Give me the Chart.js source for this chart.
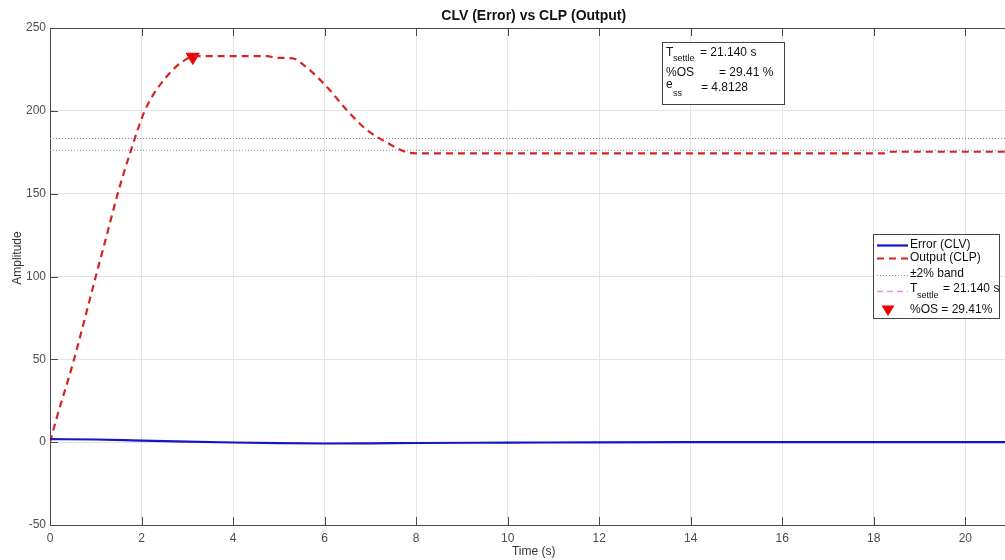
<!DOCTYPE html>
<html>
<head>
<meta charset="utf-8">
<script src="https://cdn.jsdelivr.net/npm/chart.js@4.4.1/dist/chart.umd.min.js"></script>
<style>
  html, body { margin: 0; padding: 0; background: #ffffff; overflow: hidden; }
  canvas { display: block; }
</style>
</head>
<body>
<canvas id="c" width="1026" height="560"></canvas>
<script>
// ---- data ----
const outTime  = [0, 0.15, 0.5, 1.0, 1.25, 1.5, 1.77, 2.04, 2.25, 2.5, 2.75, 3.0, 3.12, 4.75, 4.95, 5.3, 5.55, 6.0, 6.5, 6.9, 7.35, 7.8, 8.0, 18.2, 18.4, 21.14];
const outputCLP = [0, 15, 47.5, 100, 126, 152, 176.2, 198, 209.5, 219, 226.5, 231.5, 233, 233, 232, 231.7, 227.5, 216, 200, 189, 181, 175, 174.3, 174.3, 175.3, 175.3];
const errTime  = [0, 1, 2, 3, 4, 5, 6, 7, 8, 10, 12, 14, 21.14];
const errorCLV = [1.8, 1.6, 0.9, 0.3, -0.2, -0.6, -0.8, -0.7, -0.5, -0.3, -0.1, 0, 0];
const bandTime = [0, 21.14];
const bandUpper = [183.3, 183.3];
const bandLower = [176.2, 176.2];
const tSettle = 21.140;
const settleY = [-50, 250];
const peakT = [3.12];
const peakV = [232.5];
const xTicks = [0, 2, 4, 6, 8, 10, 12, 14, 16, 18, 20];
const yTicks = [-50, 0, 50, 100, 150, 200, 250];
const titleText = 'CLV (Error) vs CLP (Output)';
const xLabel = 'Time (s)';
const yLabel = 'Amplitude';
const ossText = '%OS = 29.41%';

const pts = (xs, ys) => xs.map((x, i) => ({ x: x, y: ys[i] }));

const BLUE = '#1414c8', RED = '#d42424', MARK = '#ee0000', GRAY = '#8a8a8a', PINK = '#ee88ee';
const AXC = '#4a4a4a', TXT = '#4d4d4d';
const FONT = '"Liberation Sans", Arial, sans-serif';

const decor = {
  id: 'decor',
  afterDraw(chart) {
    const ctx = chart.ctx, a = chart.chartArea;
    const xs = chart.scales.x, ys = chart.scales.y;
    ctx.save();
    // box: top & right border
    ctx.strokeStyle = AXC; ctx.lineWidth = 1;
    ctx.beginPath();
    ctx.moveTo(a.left, a.top + 0.5); ctx.lineTo(a.right, a.top + 0.5);
    ctx.moveTo(a.right - 0.5, a.top); ctx.lineTo(a.right - 0.5, a.bottom);
    ctx.stroke();
    // inward ticks
    ctx.beginPath();
    xTicks.forEach(v => {
      const px = Math.round(xs.getPixelForValue(v)) + 0.5;
      ctx.moveTo(px, a.bottom); ctx.lineTo(px, a.bottom - 8);
      ctx.moveTo(px, a.top); ctx.lineTo(px, a.top + 8);
    });
    yTicks.forEach(v => {
      const py = Math.round(ys.getPixelForValue(v)) + 0.5;
      ctx.moveTo(a.left, py); ctx.lineTo(a.left + 8, py);
      ctx.moveTo(a.right, py); ctx.lineTo(a.right - 8, py);
    });
    ctx.stroke();

    // title
    const cx = (a.left + a.right) / 2;
    ctx.fillStyle = '#111';
    ctx.font = 'bold 14px ' + FONT;
    ctx.textAlign = 'center'; ctx.textBaseline = 'middle';
    ctx.fillText(titleText, cx, 16);
    // axis labels
    ctx.fillStyle = '#333';
    ctx.font = '12px ' + FONT;
    ctx.fillText(xLabel, cx, 552);
    ctx.save();
    ctx.translate(18, 258); ctx.rotate(-Math.PI / 2);
    ctx.fillText(yLabel, 0, 0);
    ctx.restore();

    // annotation box
    ctx.fillStyle = '#fff';
    ctx.fillRect(662, 42, 123, 62);
    ctx.strokeStyle = '#444'; ctx.lineWidth = 1;
    ctx.strokeRect(662.5, 42.5, 122, 62);
    ctx.fillStyle = '#111';
    ctx.textAlign = 'left'; ctx.textBaseline = 'middle';
    ctx.font = '12px ' + FONT;
    ctx.fillText('T', 666, 53);
    ctx.fillText('= 21.140 s', 700, 53);
    ctx.fillText('%OS', 666, 73);
    ctx.fillText('= 29.41 %', 719, 73);
    ctx.fillText('e', 666, 85);
    ctx.fillText('= 4.8128', 701, 88);
    ctx.font = '9px ' + FONT;
    ctx.fillText('settle', 673, 59);
    ctx.fillText('ss', 673, 94);

    // legend
    const L = 873, T = 234, W = 126, H = 84;
    ctx.fillStyle = '#fff';
    ctx.fillRect(L, T, W, H);
    ctx.strokeStyle = '#444';
    ctx.strokeRect(L + 0.5, T + 0.5, W, H);
    const x0 = 877, x1 = 908, tx = 910;
    const seg = (y, color, w, dash) => {
      ctx.save(); ctx.strokeStyle = color; ctx.lineWidth = w; ctx.setLineDash(dash);
      ctx.beginPath(); ctx.moveTo(x0, y); ctx.lineTo(x1, y); ctx.stroke(); ctx.restore();
    };
    seg(245.5, BLUE, 2.2, []);
    seg(258.5, RED, 2.2, [7, 5]);
    seg(275.5, GRAY, 1, [1, 2]);
    seg(291.5, PINK, 1.5, [6, 4]);
    // triangle marker
    ctx.fillStyle = MARK;
    ctx.beginPath();
    ctx.moveTo(881.5, 305.5); ctx.lineTo(894.5, 305.5); ctx.lineTo(888, 316); ctx.closePath(); ctx.fill();
    ctx.fillStyle = '#111';
    ctx.font = '12px ' + FONT;
    ctx.fillText('Error (CLV)', tx, 245);
    ctx.fillText('Output (CLP)', tx, 258);
    ctx.fillText('\u00b12% band', tx, 274);
    ctx.fillText('T', tx, 289);
    ctx.fillText('= 21.140 s', 943, 289);
    ctx.fillText(ossText, tx, 310);
    ctx.font = '9px ' + FONT;
    ctx.fillText('settle', 917, 296);
    ctx.restore();
  }
};

new Chart(document.getElementById('c'), {
  type: 'line',
  data: {
    datasets: [
      { label: 'Error (CLV)', data: pts(errTime, errorCLV), borderColor: BLUE, borderWidth: 2.2, pointRadius: 0, cubicInterpolationMode: 'monotone' },
      { label: 'Output (CLP)', data: pts(outTime, outputCLP), borderColor: RED, borderWidth: 2.2, borderDash: [7, 5], pointRadius: 0, cubicInterpolationMode: 'monotone' },
      { label: '\u00b12% band', data: pts(bandTime, bandUpper), borderColor: GRAY, borderWidth: 1, borderDash: [1, 2], pointRadius: 0 },
      { label: '\u00b12% band lower', data: pts(bandTime, bandLower), borderColor: GRAY, borderWidth: 1, borderDash: [1, 2], pointRadius: 0 },
      { label: 'T settle', data: settleY.map(v => ({ x: tSettle, y: v })), borderColor: PINK, borderWidth: 1.5, borderDash: [6, 4], pointRadius: 0 },
      { label: '%OS', type: 'scatter', data: pts(peakT, peakV), backgroundColor: MARK, borderColor: MARK, pointStyle: 'triangle', rotation: 180, pointRadius: 7.5, showLine: false }
    ]
  },
  options: {
    responsive: false,
    animation: false,
    devicePixelRatio: 1,
    layout: { padding: { top: 28, right: 1, left: 0, bottom: 0 } },
    plugins: { legend: { display: false }, title: { display: false }, tooltip: { enabled: false } },
    scales: {
      x: {
        type: 'linear', min: 0, max: tSettle,
        afterBuildTicks: s => { s.ticks = xTicks.map(v => ({ value: v })); },
        afterFit: s => { s.height = 35; },
        grid: { color: '#e4e4e4', drawTicks: false },
        border: { color: AXC },
        ticks: { color: TXT, font: { size: 12, family: FONT }, padding: 6, maxRotation: 0, autoSkip: false }
      },
      y: {
        type: 'linear', min: -50, max: 250,
        afterBuildTicks: s => { s.ticks = yTicks.map(v => ({ value: v })); },
        afterFit: s => { s.width = 50; },
        grid: { color: '#e4e4e4', drawTicks: false },
        border: { color: AXC },
        ticks: { color: TXT, font: { size: 12, family: FONT }, padding: 4, autoSkip: false }
      }
    }
  },
  plugins: [decor]
});
</script>
</body>
</html>
